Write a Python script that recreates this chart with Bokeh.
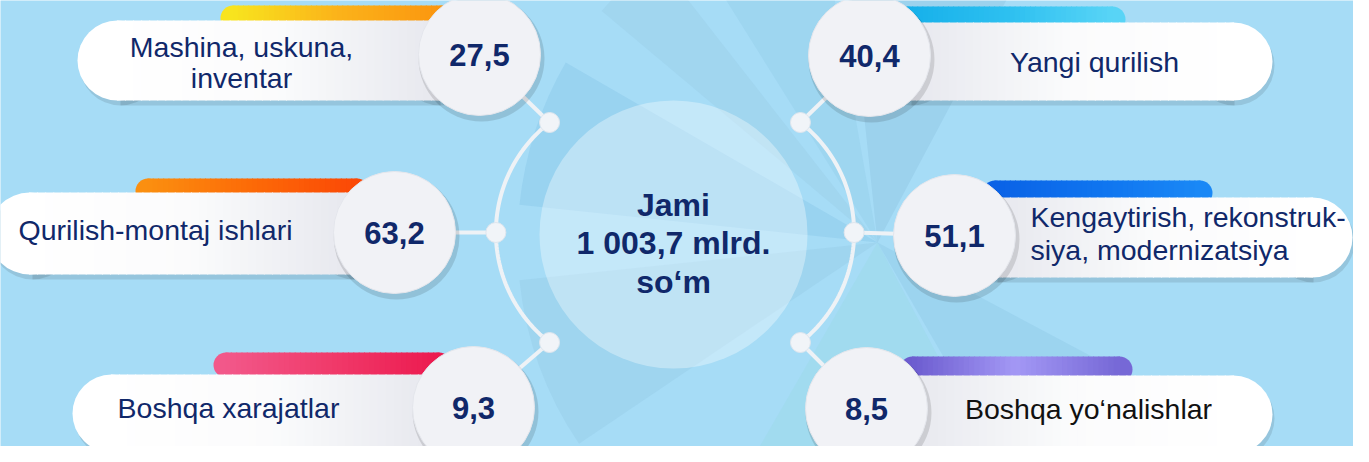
import numpy as np
from bokeh.plotting import figure
from bokeh.models import Range1d
from bokeh.core.properties import value
from bokeh.embed import file_html
from bokeh.resources import INLINE

# ---------------- data ----------------
left_labels = ["Mashina, uskuna,\ninventar", "Qurilish-montaj ishlari", "Boshqa xarajatlar"]
left_values = [27.5, 63.2, 9.3]
right_labels = ["Yangi qurilish", "Kengaytirish, rekonstruk-\nsiya, modernizatsiya", "Boshqa yo‘nalishlar"]
right_values = [40.4, 51.1, 8.5]
total_value = 1003.7
total_title = "Jami"
total_unit = "mlrd."
total_currency = "so‘m"

# ---------------- layout (image pixel coordinates, y downwards) ----------------
W_IMG, H_IMG = 1369, 462
def Y(y):
    return H_IMG - np.asarray(y, dtype=float)

FONT = value("Liberation Sans")
NAVY = "#10286a"
BG = "#a6dcf6"

left_layout = [
    dict(c=(487, 62), pill=(85, 487, 68, 80), bar=(228, 462, 13, 38),
         stops=["#f8e41e", "#fbb31a", "#fb960f"], lab=(249, 70), align="center", col=NAVY, lh=0.98),
    dict(c=(402, 240), pill=(-4, 402, 241, 82), bar=(143, 377, 186, 211),
         stops=["#fb8f10", "#fc6a07", "#fb4806"], lab=(26, 237), align="left", col=NAVY, lh=1.2),
    dict(c=(481, 415), pill=(80, 481, 421, 78), bar=(221, 459, 360, 385),
         stops=["#f2588a", "#f03a6a", "#ec1a4f"], lab=(236, 415), align="center", col=NAVY, lh=1.2),
]
right_layout = [
    dict(c=(877, 63), pill=(877, 1280, 69, 78), bar=(902, 1133, 14, 40),
         stops=["#16b0ea", "#2ec0f0", "#58d4f6"], lab=(1102, 69), align="center", col=NAVY, lh=1.2),
    dict(c=(962, 243), pill=(962, 1360, 245, 80), bar=(990, 1220, 188, 213),
         stops=["#0a62e6", "#0f74ef", "#1a88f6"], lab=(1038, 241), align="left", col=NAVY, lh=1.05),
    dict(c=(874, 416), pill=(874, 1280, 422, 78), bar=(907, 1140, 364, 390),
         stops=["#6c5ccf", "#a398f5", "#7668d6"], lab=(1096, 416), align="center", col="#111111", lh=1.2),
]
R_CIRCLE = 61
CENTER = (681, 242)
R_CENTER = 134
LABEL_SIZE = "28.5px"

# faint decorative fan in the background (angles in degrees, counter-clockwise)
fan_start = [62, 100, 128, 150, 186, 240, 300]
fan_end = [96, 122, 140, 174, 214, 298, 332]
fan_cols = ["#6d9fc4", "#78b9d8", "#8ab7cf", "#5aa8d8", "#7fb3cf", "#86d3cf", "#6aaed0"]

# ---------------- helpers ----------------
def h2rgb(h):
    h = h.lstrip("#")
    return np.array([int(h[i:i + 2], 16) for i in (0, 2, 4)], dtype=float)

def rgb2h(c):
    c = np.clip(np.round(c), 0, 255).astype(int)
    return "#%02x%02x%02x" % tuple(c)

def grad(stops, n):
    pts = np.linspace(0, 1, len(stops))
    arr = np.array([h2rgb(s) for s in stops])
    t = (np.arange(n) + 0.5) / n
    return [rgb2h([np.interp(tt, pts, arr[:, k]) for k in range(3)]) for tt in t]

p = figure(width=1353, height=446, output_backend="svg", toolbar_location=None,
           x_range=Range1d(8, 1361), y_range=Range1d(8, 454), min_border=0)
p.axis.visible = False
p.grid.visible = False
p.outline_line_color = None
p.background_fill_color = BG
p.border_fill_color = BG

# background fan
p.wedge(x=[885] * len(fan_start), y=[float(Y(250))] * len(fan_start), radius=360,
        start_angle=fan_start, end_angle=fan_end, start_angle_units="deg",
        end_angle_units="deg", fill_color=fan_cols, fill_alpha=0.17, line_color=None)

def pill(x0, x1, yc, h, stops, n=40, alpha=1.0):
    r = h / 2.0
    if len(stops) == 1:
        p.circle([x0 + r, x1 - r], Y([yc, yc]), radius=r, fill_color=stops[0],
                 line_color=None, fill_alpha=alpha)
        p.quad(left=[x0 + r], right=[x1 - r], bottom=Y(yc) - r, top=Y(yc) + r,
               fill_color=stops[0], line_color=None, fill_alpha=alpha)
        return
    p.circle([x0 + r], Y([yc]), radius=r, fill_color=stops[0], line_color=None)
    p.circle([x1 - r], Y([yc]), radius=r, fill_color=stops[-1], line_color=None)
    edges = np.linspace(x0 + r, x1 - r, n + 1)
    cols = grad(stops, n)
    p.quad(left=edges[:-1] - 0.5, right=edges[1:] + 0.5,
           bottom=[float(Y(yc) - r)] * n, top=[float(Y(yc) + r)] * n,
           fill_color=cols, line_color=None)

# ---------------- centre circle ----------------
p.circle([CENTER[0]], Y([CENTER[1]]), radius=R_CENTER, fill_color="#ffffff",
         fill_alpha=0.34, line_color=None)

# ---------------- connectors ----------------
LINE_COL = "#eef2f6"
arc_r = 139.6
for cx, t0, t1 in [(643, np.deg2rad(128), np.deg2rad(232)), (722, np.deg2rad(-52), np.deg2rad(52))]:
    t = np.linspace(t0, t1, 80)
    p.line(cx + arc_r * np.cos(t), Y(240 + arc_r * np.sin(t)), line_color=LINE_COL, line_width=4)

def nodes_for(cx, side):
    angs = np.deg2rad([232, 180, 128]) if side == "L" else np.deg2rad([-52, 0, 52])
    return [(cx + arc_r * np.cos(a), 240 + arc_r * np.sin(a)) for a in angs]

for lay, nds in [(left_layout, nodes_for(643, "L")), (right_layout, nodes_for(722, "R"))]:
    for card, (nx, ny) in zip(lay, nds):
        p.line([nx, card["c"][0]], Y([ny, card["c"][1]]), line_color=LINE_COL, line_width=4)
        p.circle([nx], Y([ny]), radius=10, fill_color="#f1f4f8", line_color="#dfe6ee", line_width=1)

# ---------------- cards ----------------
def fmt(v):
    return ("%.1f" % v).replace(".", ",")

def card(lay, label, val, side):
    x0, x1, yc, h = lay["pill"]
    bx0, bx1, by0, by1 = lay["bar"]
    pill(bx0, bx1, (by0 + by1) / 2.0, by1 - by0, lay["stops"])
    pill(x0 + 2, x1 + 2, yc + 4, h + 2, ["#000000"], alpha=0.10)
    if side == "L":
        pill(x0, x1, yc, h, ["#ffffff", "#fbfbfc", "#e6e8ee"])
    else:
        pill(x0, x1, yc, h, ["#e6e8ee", "#fbfbfc", "#ffffff"])
    cx, cy = lay["c"]
    p.circle([cx + 2], Y([cy + 4]), radius=R_CIRCLE + 2, fill_color="#000000",
             fill_alpha=0.12, line_color=None)
    p.circle([cx], Y([cy]), radius=R_CIRCLE, fill_color="#f1f2f6", line_color="#e4e6ec",
             line_width=1)
    p.text([cx], Y([cy]), text=[fmt(val)], text_font=FONT, text_font_size="31px",
           text_font_style="bold", text_color=NAVY, text_align="center",
           text_baseline="middle")
    lx, ly = lay["lab"]
    p.text([lx], Y([ly]), text=[label], text_font=FONT, text_font_size=LABEL_SIZE,
           text_color=lay["col"], text_align=lay["align"], text_baseline="middle",
           text_line_height=lay["lh"])

for lay, lab, v in zip(left_layout, left_labels, left_values):
    card(lay, lab, v, "L")
for lay, lab, v in zip(right_layout, right_labels, right_values):
    card(lay, lab, v, "R")

# ---------------- centre text ----------------
tot = ("{:,.1f}".format(total_value)).replace(",", " ").replace(".", ",")
centre_text = f"{total_title}\n{tot} {total_unit}\n{total_currency}"
p.text([CENTER[0]], Y([251]), text=[centre_text], text_font=FONT, text_font_size="32px",
       text_font_style="bold", text_color=NAVY, text_align="center", text_baseline="middle",
       text_line_height=1.08)

open("out.html", "w").write(file_html(p, INLINE))
